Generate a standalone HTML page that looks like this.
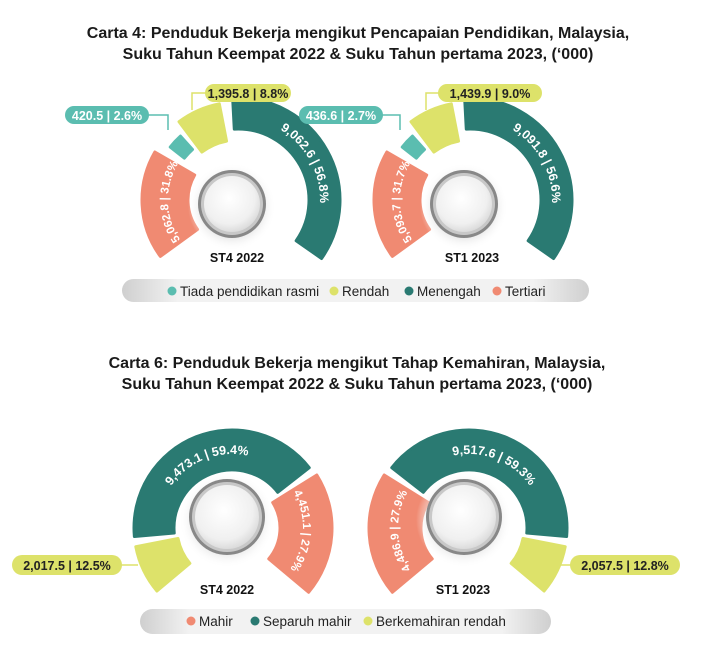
<!DOCTYPE html>
<html><head><meta charset="utf-8"><style>
body{margin:0;background:#fff;width:703px;height:647px;overflow:hidden;font-family:"Liberation Sans",sans-serif}
svg{position:absolute;left:0;top:0}
.t{font-weight:bold;font-size:16px;fill:#1a1a1a;text-anchor:middle}
.lb{font-weight:bold;font-size:12.5px;fill:#111;text-anchor:middle}
.arc{font-weight:bold;font-size:12.5px;fill:#fff}
.arc2{font-weight:bold;font-size:11.5px;fill:#fff}
.lg{font-size:13.5px;fill:#222}
.pl{font-weight:bold;font-size:12.5px;text-anchor:middle}
</style></head><body>
<svg width="703" height="647" viewBox="0 0 703 647">
<defs>
<linearGradient id="leg" x1="0" x2="1" y1="0" y2="0"><stop offset="0" stop-color="#cfcfcf"/><stop offset="0.12" stop-color="#f2f2f2"/><stop offset="0.88" stop-color="#f2f2f2"/><stop offset="1" stop-color="#cfcfcf"/></linearGradient>
<radialGradient id="knob" cx="0.45" cy="0.4" r="0.65"><stop offset="0" stop-color="#ffffff"/><stop offset="0.7" stop-color="#f0f0f0"/><stop offset="1" stop-color="#d5d5d5"/></radialGradient>
<radialGradient id="sh" cx="0.5" cy="0.5" r="0.5"><stop offset="0.6" stop-color="#dcdcdc"/><stop offset="1" stop-color="#ffffff" stop-opacity="0"/></radialGradient>
</defs>
<text class="t" x="358" y="38">Carta 4: Penduduk Bekerja mengikut Pencapaian Pendidikan, Malaysia,</text>
<text class="t" x="358" y="59">Suku Tahun Keempat 2022 &amp; Suku Tahun pertama 2023, (‘000)</text>
<text class="t" x="357" y="368">Carta 6: Penduduk Bekerja mengikut Tahap Kemahiran, Malaysia,</text>
<text class="t" x="357" y="389">Suku Tahun Keempat 2022 &amp; Suku Tahun pertama 2023, (‘000)</text>
<g id="segs"></g>
<path id="a1" fill="none"/><path id="a2" fill="none"/><path id="a3" fill="none"/><path id="a4" fill="none"/>
<path id="a5" fill="none"/><path id="a6" fill="none"/><path id="a7" fill="none"/><path id="a8" fill="none"/>
<text class="arc"><textPath href="#a1" startOffset="50%" text-anchor="middle">9,062.6 | 56.8%</textPath></text>
<text class="arc2"><textPath href="#a2" startOffset="50%" text-anchor="middle">5,062.8 | 31.8%</textPath></text>
<text class="arc"><textPath href="#a3" startOffset="50%" text-anchor="middle">9,091.8 | 56.6%</textPath></text>
<text class="arc2"><textPath href="#a4" startOffset="50%" text-anchor="middle">5,093.7 | 31.7%</textPath></text>
<text class="arc"><textPath href="#a5" startOffset="50%" text-anchor="middle">9,473.1 | 59.4%</textPath></text>
<text class="arc2"><textPath href="#a6" startOffset="50%" text-anchor="middle">4,451.1 | 27.9%</textPath></text>
<text class="arc"><textPath href="#a7" startOffset="50%" text-anchor="middle">9,517.6 | 59.3%</textPath></text>
<text class="arc2"><textPath href="#a8" startOffset="50%" text-anchor="middle">4,486.9 | 27.9%</textPath></text>
<g id="knobs"></g>
<text class="lb" x="237" y="262">ST4 2022</text>
<text class="lb" x="472" y="262">ST1 2023</text>
<text class="lb" x="227" y="594">ST4 2022</text>
<text class="lb" x="463" y="594">ST1 2023</text>
<polyline points="148,115 168,115 168,130" fill="none" stroke="#5bbdb0" stroke-width="1.5"/>
<rect x="65" y="106" width="84" height="18" rx="9" fill="#5bbdb0"/>
<text class="pl" x="107" y="120" fill="#fff">420.5 | 2.6%</text>
<polyline points="206,93 192,93 192,110" fill="none" stroke="#dde26a" stroke-width="1.5"/>
<rect x="205" y="84" width="86" height="18" rx="9" fill="#dde26a"/>
<text class="pl" x="248" y="98" fill="#222">1,395.8 | 8.8%</text>
<polyline points="382,115 400,115 400,130" fill="none" stroke="#5bbdb0" stroke-width="1.5"/>
<rect x="299" y="106" width="84" height="18" rx="9" fill="#5bbdb0"/>
<text class="pl" x="341" y="120" fill="#fff">436.6 | 2.7%</text>
<polyline points="440,93 426,93 426,110" fill="none" stroke="#dde26a" stroke-width="1.5"/>
<rect x="438" y="84" width="104" height="18" rx="9" fill="#dde26a"/>
<text class="pl" x="490" y="98" fill="#222">1,439.9 | 9.0%</text>
<line x1="120" y1="565" x2="138" y2="565" stroke="#dde26a" stroke-width="1.5"/>
<rect x="12" y="555" width="110" height="20" rx="10" fill="#dde26a"/>
<text class="pl" x="67" y="570" fill="#222">2,017.5 | 12.5%</text>
<line x1="555" y1="565" x2="572" y2="565" stroke="#dde26a" stroke-width="1.5"/>
<rect x="570" y="555" width="110" height="20" rx="10" fill="#dde26a"/>
<text class="pl" x="625" y="570" fill="#222">2,057.5 | 12.8%</text>
<rect x="122" y="279" width="467" height="23" rx="11.5" fill="url(#leg)"/>
<circle cx="172" cy="291" r="4.5" fill="#5bbdb0"/><text class="lg" x="180" y="296">Tiada pendidikan rasmi</text>
<circle cx="334" cy="291" r="4.5" fill="#dde26a"/><text class="lg" x="342" y="296">Rendah</text>
<circle cx="409" cy="291" r="4.5" fill="#2a7a72"/><text class="lg" x="417" y="296">Menengah</text>
<circle cx="497" cy="291" r="4.5" fill="#f08a72"/><text class="lg" x="505" y="296">Tertiari</text>
<rect x="140" y="609" width="411" height="25" rx="12.5" fill="url(#leg)"/>
<circle cx="191" cy="621" r="4.5" fill="#f08a72"/><text class="lg" x="199" y="626">Mahir</text>
<circle cx="255" cy="621" r="4.5" fill="#2a7a72"/><text class="lg" x="263" y="626">Separuh mahir</text>
<circle cx="368" cy="621" r="4.5" fill="#dde26a"/><text class="lg" x="376" y="626">Berkemahiran rendah</text>
</svg>
<script>
var NS="http://www.w3.org/2000/svg";
function P(cx,cy,r,a){a=a*Math.PI/180;return [cx+r*Math.sin(a),cy-r*Math.cos(a)];}
function seg(cx,cy,r0,r1,a0,a1){
 var L=(a1-a0)>180?1:0,p1=P(cx,cy,r1,a0),p2=P(cx,cy,r1,a1),p3=P(cx,cy,r0,a1),p4=P(cx,cy,r0,a0);
 return "M"+p1+"A"+r1+","+r1+" 0 "+L+" 1 "+p2+"L"+p3+"A"+r0+","+r0+" 0 "+L+" 0 "+p4+"Z";}
function arc(cx,cy,r,a0,a1){var p1=P(cx,cy,r,a0),p2=P(cx,cy,r,a1);return "M"+p1+"A"+r+","+r+" 0 "+((a1-a0)>180?1:0)+" 1 "+p2;}
var g=document.getElementById("segs"),k=document.getElementById("knobs");
function add(d,c){var e=document.createElementNS(NS,"path");e.setAttribute("d",d);e.setAttribute("fill",c);e.setAttribute("stroke",c);e.setAttribute("stroke-width","3");e.setAttribute("stroke-linejoin","round");g.appendChild(e);}
var C="#f08a72",T="#2a7a72",Y="#dde26a",L="#5bbdb0";
function chart4(dx,ai,ci){
 var cx=238+dx,cy=200;
 add(seg(cx,cy,50,96,-126,-60),C);
 add(seg(cx,cy,68,86,-52,-42),L);
 add(seg(cx,cy,60,98,-37,-11),Y);
 add(seg(cx,cy,71,102,-3,125),T);
 document.getElementById(ai).setAttribute("d",arc(cx,cy,82,-5,128));
 document.getElementById(ci).setAttribute("d",arc(cx,cy,70,-135,-48));
 knob(232+dx,204,34);
}
function chart6(dx,m,ai,ci){
 var cx=232+dx,cy=528;
 if(!m){
  add(seg(cx,cy,55,98,-130,-101),Y);
  add(seg(cx,cy,58,98,-95,52),T);
  add(seg(cx,cy,48,100,58,130),C);
  document.getElementById(ai).setAttribute("d",arc(cx,cy,74,-95,52));
  document.getElementById(ci).setAttribute("d",arc(cx,cy,71,45,140));
 } else {
  add(seg(cx,cy,55,98,101,130),Y);
  add(seg(cx,cy,58,98,-52,95),T);
  add(seg(cx,cy,48,100,-130,-58),C);
  document.getElementById(ai).setAttribute("d",arc(cx,cy,74,-52,95));
  document.getElementById(ci).setAttribute("d",arc(cx,cy,71,-140,-45));
 }
 knob(cx-5,517,38);
}
function knob(x,y,r){
 k.insertAdjacentHTML("beforeend",'<circle cx="'+x+'" cy="'+(y+3)+'" r="'+(r+10)+'" fill="url(#sh)"/>'+
 '<circle cx="'+x+'" cy="'+y+'" r="'+r+'" fill="#888"/>'+
 '<circle cx="'+x+'" cy="'+y+'" r="'+(r-3)+'" fill="#c8c8c8"/>'+
 '<circle cx="'+x+'" cy="'+y+'" r="'+(r-6)+'" fill="url(#knob)"/>');
}
chart4(0,"a1","a2");chart4(232,"a3","a4");
chart6(0,false,"a5","a6");chart6(237,true,"a7","a8");
</script>
</body></html>
